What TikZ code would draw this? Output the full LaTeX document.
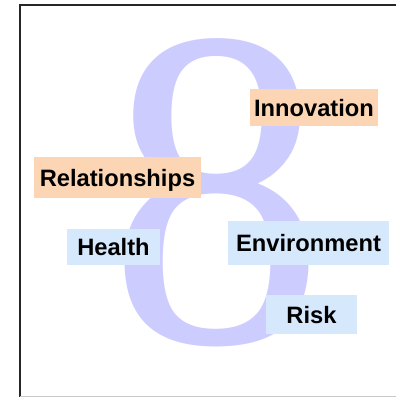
\documentclass[tikz,border=0pt]{standalone}
\usepackage{fontspec}
\setmainfont{Liberation Serif}
\setsansfont{Liberation Sans}
\usepackage{xcolor}
\usepackage{tikz}
\usetikzlibrary{positioning}
\definecolor{eightblue}{HTML}{CCCCFF}
\definecolor{peach}{HTML}{FCD5B4}
\definecolor{paleblue}{HTML}{D6E8FC}
\definecolor{framegray}{HTML}{C8C8C8}

\begin{document}
\begin{tikzpicture}[x=1bp,y=-1bp,
    labelbox/.style={inner sep=0pt, text height=17bp, text depth=0pt,
      font=\fontsize{23.7bp}{26bp}\sffamily\bfseries},
    warmbox/.style={labelbox, fill=peach},
    coolbox/.style={labelbox, fill=paleblue}]
    \useasboundingbox (0,0) rectangle (396,397);
    \node[text=eightblue, inner sep=0pt, xscale=0.95, font=\fontsize{457bp}{457bp}\rmfamily]
      (eight) at (217,193) {8};
    \draw[line width=2bp, draw=black!85] (20,398) -- (20,5) -- (400,5);
    \draw[line width=1bp, draw=framegray] (20,396) -- (400,396);
    \node[warmbox, minimum width=128bp, minimum height=37bp] (innov) at (314,107.5) {Innovation};
    \node[warmbox, minimum width=167bp, minimum height=41bp] (relat) at (117.5,177.5) {Relationships};
    \node[coolbox, minimum width=93bp, minimum height=36bp] (health) at (113.5,247) {Health};
    \node[coolbox, minimum width=161bp, minimum height=44bp] (envir) at (308.5,243) {Environment};
    \node[coolbox, minimum width=91bp, minimum height=39bp] (risk) at (311.5,314.5) {Risk};
\end{tikzpicture}
\end{document}
